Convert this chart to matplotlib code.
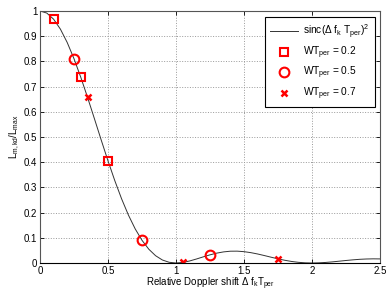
import matplotlib
matplotlib.use('Agg')
import matplotlib.pyplot as plt

plt.rcParams['font.family'] = ['Liberation Sans', 'DejaVu Sans']
plt.rcParams['mathtext.fontset'] = 'custom'
plt.rcParams['mathtext.rm'] = 'Liberation Sans'
plt.rcParams['mathtext.it'] = 'Liberation Sans'

# sinc^2 curve
curve_x = [0, 0.05, 0.1, 0.15, 0.2, 0.25, 0.3, 0.35, 0.4, 0.45, 0.5,
           0.55, 0.6, 0.65, 0.7, 0.75, 0.8, 0.85, 0.9, 0.95, 1.0,
           1.05, 1.1, 1.15, 1.2, 1.25, 1.3, 1.35, 1.4, 1.45, 1.5,
           1.55, 1.6, 1.65, 1.7, 1.75, 1.8, 1.85, 1.9, 1.95, 2.0,
           2.05, 2.1, 2.15, 2.2, 2.25, 2.3, 2.35, 2.4, 2.45, 2.5]
curve_y = [1.0, 0.9918, 0.9675, 0.9281, 0.8751, 0.8106, 0.7368, 0.6567, 0.5728, 0.4881, 0.4053,
           0.3267, 0.2546, 0.1904, 0.1353, 0.0901, 0.0547, 0.0289, 0.0119, 0.0028, 0.0,
           0.0022, 0.0080, 0.0158, 0.0243, 0.0324, 0.0392, 0.0441, 0.0468, 0.0470, 0.0450,
           0.0411, 0.0358, 0.0295, 0.0229, 0.0165, 0.0108, 0.0061, 0.0027, 0.0007, 0.0,
           0.0006, 0.0022, 0.0045, 0.0072, 0.0100, 0.0125, 0.0146, 0.0159, 0.0165, 0.0162]

sq_x = [0.1, 0.3, 0.5]
sq_y = [0.967, 0.737, 0.405]
circ_x = [0.25, 0.75, 1.25]
circ_y = [0.811, 0.090, 0.032]
cross_x = [0.35, 1.05, 1.75]
cross_y = [0.657, 0.002, 0.017]

fig = plt.figure(figsize=(3.9, 2.93), dpi=100)
ax = fig.add_axes([40/390, 30/293, 340/390, 252/293])

ax.plot(curve_x, curve_y, color='#333333', lw=0.7, label=r'sinc($\Delta$ f$_k$ T$_{per}$)$^2$')
ax.plot(sq_x, sq_y, 's', ms=6, mfc='none', mec='red', mew=1.5, label=r'WT$_{per}$ = 0.2')
ax.plot(circ_x, circ_y, 'o', ms=7, mfc='none', mec='red', mew=1.5, label=r'WT$_{per}$ = 0.5')
ax.plot(cross_x, cross_y, 'x', ms=5, mec='red', mew=1.8, label=r'WT$_{per}$ = 0.7')

ax.set_xlim(0, 2.5)
ax.set_ylim(0, 1)
ax.set_xticks([0, 0.5, 1, 1.5, 2, 2.5])
ax.set_xticklabels(['0', '0.5', '1', '1.5', '2', '2.5'])
ax.set_yticks([i / 10 for i in range(11)])
ax.set_yticklabels(['0', '0.1', '0.2', '0.3', '0.4', '0.5', '0.6', '0.7', '0.8', '0.9', '1'])
ax.tick_params(direction='in', labelsize=7, length=3, width=0.6, top=True, right=True, pad=2)
ax.grid(True, ls=':', color='#999999', lw=0.7)
for s in ax.spines.values():
    s.set_color('#555555')
    s.set_linewidth(0.8)
ax.spines['bottom'].set_color('black')

ax.set_xlabel(r'Relative Doppler shift $\Delta$ f$_k$T$_{per}$', fontsize=7, labelpad=0)
ax.set_ylabel(r'L$_{m,kd}$/L$_{max}$', fontsize=7, labelpad=1)

leg = ax.legend(loc='upper right', bbox_to_anchor=(0.985, 0.975), fontsize=7.3, frameon=True,
                fancybox=False, edgecolor='black', framealpha=1, borderaxespad=0,
                labelspacing=0.4, handlelength=2.8, handletextpad=0.5, borderpad=0.5)
leg.get_frame().set_linewidth(0.8)

fig.savefig('out.png', dpi=100)
